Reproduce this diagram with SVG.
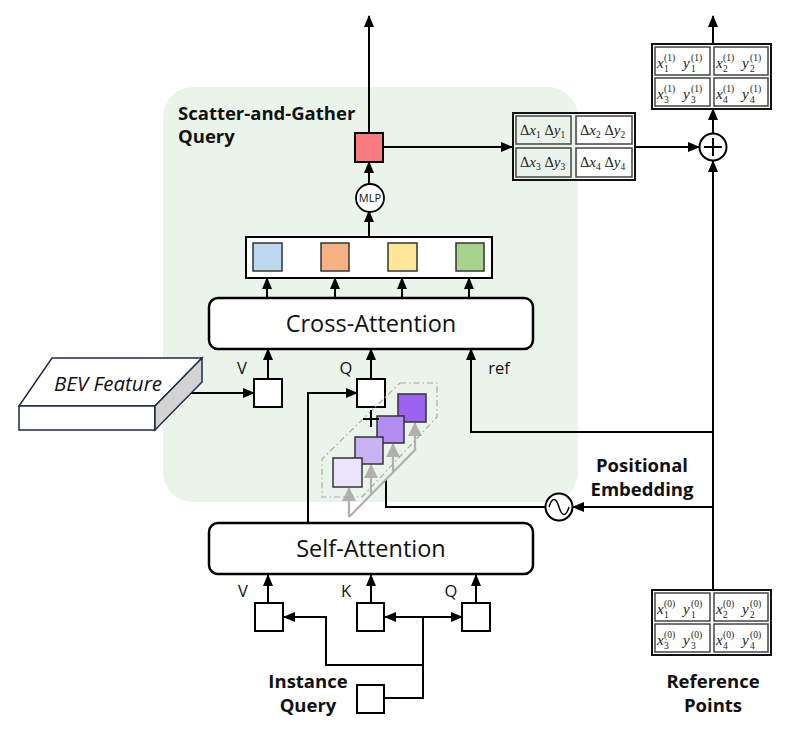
<svg xmlns="http://www.w3.org/2000/svg" width="800" height="734" viewBox="0 0 800 734">
<defs>
<marker id="ah" markerUnits="userSpaceOnUse" markerWidth="12" markerHeight="10" refX="11" refY="5" orient="auto">
<path d="M0,0 L12,5 L0,10 Z" fill="#000"/>
</marker>
<marker id="ag" markerUnits="userSpaceOnUse" markerWidth="14" markerHeight="14" refX="13" refY="7" orient="auto">
<path d="M0,0 L14,7 L0,14 Z" fill="#b0b0b0"/>
</marker>
</defs>
<style>
.ln{fill:none;stroke:#000;stroke-width:2}
.ar{fill:none;stroke:#000;stroke-width:2;marker-end:url(#ah)}
.gr{fill:none;stroke:#b0b0b0;stroke-width:2.2}
.box{fill:#fff;stroke:#000;stroke-width:2}
.sq{stroke:#333;stroke-width:1.5}
.blk{fill:#fff;stroke:#000;stroke-width:2.5}
.big{font-family:"Open Sans","Noto Sans",sans-serif;font-size:23.5px;fill:#111;text-anchor:middle}
.bold{font-family:"Open Sans","Noto Sans",sans-serif;font-size:18.5px;font-weight:bold;fill:#111}
.lab{font-family:"Open Sans","Noto Sans",sans-serif;font-size:16.5px;fill:#111;text-anchor:middle}
.m{font-family:"Liberation Serif","DejaVu Serif",serif;font-size:14.5px;fill:#222}
.mi{font-family:"Liberation Serif","DejaVu Serif",serif;font-size:15px;font-style:italic;fill:#222}
.ms{font-family:"Liberation Serif","DejaVu Serif",serif;font-size:9.5px;fill:#222}
.cell{fill:none;stroke:#444;stroke-width:1.5}
.outer{fill:none;stroke:#111;stroke-width:2}
</style>

<g id="bg">
<rect x="163" y="87" width="415" height="415" rx="30" fill="#ebf4ea"/>
<text class="bold" x="178" y="120">Scatter-and-Gather</text>
<text class="bold" x="178" y="143">Query</text>
</g>

<g id="connectors">
<line class="ar" x1="369" y1="133" x2="369" y2="16"/>
<line class="ar" x1="369" y1="184" x2="369" y2="162"/>
<line class="ar" x1="369" y1="236" x2="369" y2="211"/>
<line class="ar" x1="267" y1="298" x2="267" y2="278"/>
<line class="ar" x1="335" y1="298" x2="335" y2="278"/>
<line class="ar" x1="402" y1="298" x2="402" y2="278"/>
<line class="ar" x1="469" y1="298" x2="469" y2="278"/>
<line class="ar" x1="383" y1="147" x2="512" y2="147"/>
<line class="ar" x1="635" y1="147" x2="699" y2="147"/>
<line class="ar" x1="713" y1="133" x2="713" y2="109"/>
<line class="ar" x1="713" y1="44" x2="713" y2="16"/>
<line class="ar" x1="713" y1="590" x2="713" y2="161"/>
<polyline class="ar" points="713,432 471,432 471,349"/>
<line class="ar" x1="713" y1="507" x2="573" y2="507"/>
<polyline class="ln" points="545,507 386,507 386,479"/>
<line class="ar" x1="268" y1="379" x2="268" y2="349"/>
<line class="ar" x1="371" y1="379" x2="371" y2="349"/>
<line class="ar" x1="185" y1="393" x2="254" y2="393"/>
<polyline class="ar" points="308,522 308,393 357,393"/>
<line class="ar" x1="268" y1="603" x2="268" y2="575"/>
<line class="ar" x1="371" y1="603" x2="371" y2="575"/>
<line class="ar" x1="476" y1="603" x2="476" y2="575"/>
<line class="ar" x1="423" y1="617" x2="462" y2="617"/>
<line class="ar" x1="423" y1="617" x2="385" y2="617"/>
<polyline class="ln" points="385,698 423,698 423,617"/>
<polyline class="ar" points="423,665 326,665 326,617 284,617"/>
<line class="gr" x1="349" y1="517" x2="416" y2="449"/>
<line class="gr" x1="349" y1="517" x2="349" y2="488" style="marker-end:url(#ag)"/>
<line class="gr" x1="371" y1="495" x2="371" y2="465" style="marker-end:url(#ag)"/>
<line class="gr" x1="393" y1="473" x2="393" y2="444" style="marker-end:url(#ag)"/>
<line class="gr" x1="415" y1="450" x2="415" y2="423" style="marker-end:url(#ag)"/>
</g>

<g id="red-query"><rect x="355" y="133" width="28" height="29" fill="#f87b80" stroke="#000" stroke-width="2"/></g>

<g id="mlp">
<circle cx="370" cy="198" r="14" fill="#fff" stroke="#000" stroke-width="1.8"/>
<text x="370" y="202" font-family="Open Sans,Noto Sans,sans-serif" font-size="11" text-anchor="middle" fill="#111">MLP</text>
</g>

<g id="features">
<rect x="246" y="237" width="246" height="41" fill="#fff" stroke="#000" stroke-width="2"/>
<rect class="sq" x="253" y="243" width="29" height="28" fill="#bdd7ee"/>
<rect class="sq" x="321" y="243" width="28" height="28" fill="#f4b183"/>
<rect class="sq" x="388" y="243" width="29" height="28" fill="#ffe699"/>
<rect class="sq" x="456" y="243" width="28" height="28" fill="#a9d18e"/>
</g>

<g id="cross-attention">
<rect class="blk" x="209" y="298" width="324" height="51" rx="9"/>
<text class="big" x="371" y="332">Cross-Attention</text>
</g>

<g id="ca-labels">
<text class="lab" x="242" y="374">V</text>
<text class="lab" x="346" y="374">Q</text>
<text class="lab" x="499" y="374">ref</text>
</g>

<g id="ca-v"><rect class="box" x="254" y="379" width="28" height="28"/></g>
<g id="ca-q"><rect class="box" x="357" y="379" width="28" height="28"/></g>

<g id="bev">
<polygon points="52,358 202,358 155,406 19,406" fill="#fff" stroke="#1f2a4a" stroke-width="1.5"/>
<polygon points="19,406 155,406 155,430 19,430" fill="#fff" stroke="#1f2a4a" stroke-width="1.5"/>
<polygon points="155,406 202,358 202,382 155,430" fill="#d3d3d3" stroke="#1f2a4a" stroke-width="1.5"/>
<text x="108" y="391" font-family="Open Sans,Noto Sans,sans-serif" font-size="20.5" font-style="italic" text-anchor="middle" fill="#111">BEV Feature</text>
</g>

<g id="pos-stack">
<path d="M400,383 L437,383 L437,417 L362,497 L322,497 L322,459 Z" fill="none" stroke="#aaa" stroke-width="1.2" stroke-dasharray="6,3,1.5,3" stroke-linejoin="round"/>
<rect class="sq" x="398" y="394" width="28" height="28" fill="#9b63ee"/>
<rect class="sq" x="377" y="416" width="27" height="27" fill="#b28ef3"/>
<rect class="sq" x="355" y="437" width="28" height="27" fill="#c9b3f7"/>
<rect class="sq" x="333" y="458" width="29" height="29" fill="#ebe3fc"/>
<path d="M371,410 L371,427 M363,419 L379,419" stroke="#000" stroke-width="2" fill="none"/>
</g>

<g id="sine">
<circle cx="559" cy="507" r="13.5" fill="#fff" stroke="#000" stroke-width="2"/>
<path d="M549,507 C552,497 556,497 559,507 C562,517 566,517 569,507" fill="none" stroke="#000" stroke-width="1.5"/>
</g>

<g id="pos-label">
<text class="bold" x="642" y="472" text-anchor="middle">Positional</text>
<text class="bold" x="642" y="496" text-anchor="middle">Embedding</text>
</g>

<g id="plus">
<circle cx="713" cy="147" r="13.5" fill="#fff" stroke="#000" stroke-width="2"/>
<path d="M713,138 L713,156 M704,147 L722,147" stroke="#000" stroke-width="2"/>
</g>

<g id="delta-box">
<rect class="outer" x="513" y="113" width="122" height="67"/>
<rect class="cell" x="516" y="116" width="55" height="28"/>
<rect class="cell" x="576" y="116" width="56" height="28"/>
<rect class="cell" x="516" y="148" width="55" height="29"/>
<rect class="cell" x="576" y="148" width="56" height="29"/>
<text x="520" y="135"><tspan class="m">Δ</tspan><tspan class="mi">x</tspan><tspan class="ms" dy="3">1</tspan><tspan class="m" dy="-3"> Δ</tspan><tspan class="mi">y</tspan><tspan class="ms" dy="3">1</tspan></text>
<text x="580" y="135"><tspan class="m">Δ</tspan><tspan class="mi">x</tspan><tspan class="ms" dy="3">2</tspan><tspan class="m" dy="-3"> Δ</tspan><tspan class="mi">y</tspan><tspan class="ms" dy="3">2</tspan></text>
<text x="520" y="167"><tspan class="m">Δ</tspan><tspan class="mi">x</tspan><tspan class="ms" dy="3">3</tspan><tspan class="m" dy="-3"> Δ</tspan><tspan class="mi">y</tspan><tspan class="ms" dy="3">3</tspan></text>
<text x="580" y="167"><tspan class="m">Δ</tspan><tspan class="mi">x</tspan><tspan class="ms" dy="3">4</tspan><tspan class="m" dy="-3"> Δ</tspan><tspan class="mi">y</tspan><tspan class="ms" dy="3">4</tspan></text>
</g>

<g id="out-points">
<rect class="outer" x="652" y="44" width="119" height="65"/>
<rect class="cell" x="655" y="47" width="55" height="28"/>
<rect class="cell" x="714" y="47" width="54" height="28"/>
<rect class="cell" x="655" y="78" width="55" height="28"/>
<rect class="cell" x="714" y="78" width="54" height="28"/>
<text class="mi" x="657" y="68">x</text><text class="ms" x="664" y="72">1</text><text class="ms" x="664" y="61">(1)</text>
<text class="mi" x="683" y="68">y</text><text class="ms" x="691" y="72">1</text><text class="ms" x="691" y="61">(1)</text>
<text class="mi" x="716" y="68">x</text><text class="ms" x="723" y="72">2</text><text class="ms" x="723" y="61">(1)</text>
<text class="mi" x="742" y="68">y</text><text class="ms" x="750" y="72">2</text><text class="ms" x="750" y="61">(1)</text>
<text class="mi" x="657" y="99">x</text><text class="ms" x="664" y="103">3</text><text class="ms" x="664" y="92">(1)</text>
<text class="mi" x="683" y="99">y</text><text class="ms" x="691" y="103">3</text><text class="ms" x="691" y="92">(1)</text>
<text class="mi" x="716" y="99">x</text><text class="ms" x="723" y="103">4</text><text class="ms" x="723" y="92">(1)</text>
<text class="mi" x="742" y="99">y</text><text class="ms" x="750" y="103">4</text><text class="ms" x="750" y="92">(1)</text>
</g>

<g id="ref-points">
<rect class="outer" x="652" y="590" width="119" height="65"/>
<rect class="cell" x="655" y="593" width="55" height="28"/>
<rect class="cell" x="714" y="593" width="54" height="28"/>
<rect class="cell" x="655" y="624" width="55" height="28"/>
<rect class="cell" x="714" y="624" width="54" height="28"/>
<text class="mi" x="657" y="614">x</text><text class="ms" x="664" y="618">1</text><text class="ms" x="664" y="607">(0)</text>
<text class="mi" x="683" y="614">y</text><text class="ms" x="691" y="618">1</text><text class="ms" x="691" y="607">(0)</text>
<text class="mi" x="716" y="614">x</text><text class="ms" x="723" y="618">2</text><text class="ms" x="723" y="607">(0)</text>
<text class="mi" x="742" y="614">y</text><text class="ms" x="750" y="618">2</text><text class="ms" x="750" y="607">(0)</text>
<text class="mi" x="657" y="645">x</text><text class="ms" x="664" y="649">3</text><text class="ms" x="664" y="638">(0)</text>
<text class="mi" x="683" y="645">y</text><text class="ms" x="691" y="649">3</text><text class="ms" x="691" y="638">(0)</text>
<text class="mi" x="716" y="645">x</text><text class="ms" x="723" y="649">4</text><text class="ms" x="723" y="638">(0)</text>
<text class="mi" x="742" y="645">y</text><text class="ms" x="750" y="649">4</text><text class="ms" x="750" y="638">(0)</text>
<text class="bold" x="713" y="688" text-anchor="middle">Reference</text>
<text class="bold" x="713" y="712" text-anchor="middle">Points</text>
</g>

<g id="self-attention">
<rect class="blk" x="209" y="523" width="324" height="51" rx="9"/>
<text class="big" x="371" y="557">Self-Attention</text>
</g>

<g id="sa-labels">
<text class="lab" x="243" y="597">V</text>
<text class="lab" x="346" y="597">K</text>
<text class="lab" x="451" y="597">Q</text>
</g>
<g id="sa-v"><rect class="box" x="255" y="603" width="28" height="28"/></g>
<g id="sa-k"><rect class="box" x="357" y="603" width="27" height="28"/></g>
<g id="sa-q"><rect class="box" x="462" y="603" width="28" height="28"/></g>

<g id="instance-query">
<rect class="box" x="357" y="685" width="27" height="28"/>
<text class="bold" x="308" y="688" text-anchor="middle">Instance</text>
<text class="bold" x="308" y="712" text-anchor="middle">Query</text>
</g>
</svg>
